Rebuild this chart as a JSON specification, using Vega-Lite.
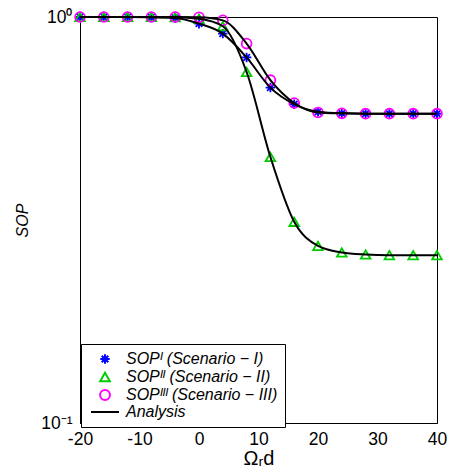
{
  "$schema": "https://vega.github.io/schema/vega-lite/v6.json",
  "width": 357,
  "height": 406,
  "autosize": "none",
  "padding": {"left": 80, "top": 17, "right": 13, "bottom": 51},
  "config": {
    "font": "Liberation Sans",
    "view": {"stroke": "black", "strokeWidth": 1},
    "axis": {
      "grid": false,
      "ticks": false,
      "domainColor": "black",
      "domainWidth": 1,
      "labelColor": "black",
      "titleColor": "black",
      "labelFont": "Liberation Sans",
      "titleFont": "Liberation Sans",
      "labelFontSize": 17.5,
      "titleFontWeight": "normal"
    }
  },
  "data": {
    "values": [
      {"x": -20, "sop": 1.0, "series": "SOPᴵ (Scenario − I)"},
      {"x": -16, "sop": 1.0, "series": "SOPᴵ (Scenario − I)"},
      {"x": -12, "sop": 1.0, "series": "SOPᴵ (Scenario − I)"},
      {"x": -8, "sop": 0.999, "series": "SOPᴵ (Scenario − I)"},
      {"x": -4, "sop": 0.995, "series": "SOPᴵ (Scenario − I)"},
      {"x": 0, "sop": 0.963, "series": "SOPᴵ (Scenario − I)"},
      {"x": 4, "sop": 0.91, "series": "SOPᴵ (Scenario − I)"},
      {"x": 8, "sop": 0.795, "series": "SOPᴵ (Scenario − I)"},
      {"x": 12, "sop": 0.67, "series": "SOPᴵ (Scenario − I)"},
      {"x": 16, "sop": 0.61, "series": "SOPᴵ (Scenario − I)"},
      {"x": 20, "sop": 0.584, "series": "SOPᴵ (Scenario − I)"},
      {"x": 24, "sop": 0.579, "series": "SOPᴵ (Scenario − I)"},
      {"x": 28, "sop": 0.578, "series": "SOPᴵ (Scenario − I)"},
      {"x": 32, "sop": 0.578, "series": "SOPᴵ (Scenario − I)"},
      {"x": 36, "sop": 0.578, "series": "SOPᴵ (Scenario − I)"},
      {"x": 40, "sop": 0.578, "series": "SOPᴵ (Scenario − I)"},
      {"x": -20, "sop": 1.0, "series": "SOPᴵᴵ (Scenario − II)"},
      {"x": -16, "sop": 1.0, "series": "SOPᴵᴵ (Scenario − II)"},
      {"x": -12, "sop": 1.0, "series": "SOPᴵᴵ (Scenario − II)"},
      {"x": -8, "sop": 1.0, "series": "SOPᴵᴵ (Scenario − II)"},
      {"x": -4, "sop": 0.999, "series": "SOPᴵᴵ (Scenario − II)"},
      {"x": 0, "sop": 0.99, "series": "SOPᴵᴵ (Scenario − II)"},
      {"x": 4, "sop": 0.949, "series": "SOPᴵᴵ (Scenario − II)"},
      {"x": 8, "sop": 0.732, "series": "SOPᴵᴵ (Scenario − II)"},
      {"x": 12, "sop": 0.452, "series": "SOPᴵᴵ (Scenario − II)"},
      {"x": 16, "sop": 0.313, "series": "SOPᴵᴵ (Scenario − II)"},
      {"x": 20, "sop": 0.273, "series": "SOPᴵᴵ (Scenario − II)"},
      {"x": 24, "sop": 0.263, "series": "SOPᴵᴵ (Scenario − II)"},
      {"x": 28, "sop": 0.26, "series": "SOPᴵᴵ (Scenario − II)"},
      {"x": 32, "sop": 0.259, "series": "SOPᴵᴵ (Scenario − II)"},
      {"x": 36, "sop": 0.259, "series": "SOPᴵᴵ (Scenario − II)"},
      {"x": 40, "sop": 0.259, "series": "SOPᴵᴵ (Scenario − II)"},
      {"x": -20, "sop": 1.0, "series": "SOPᴵᴵᴵ (Scenario − III)"},
      {"x": -16, "sop": 1.0, "series": "SOPᴵᴵᴵ (Scenario − III)"},
      {"x": -12, "sop": 1.0, "series": "SOPᴵᴵᴵ (Scenario − III)"},
      {"x": -8, "sop": 1.0, "series": "SOPᴵᴵᴵ (Scenario − III)"},
      {"x": -4, "sop": 1.0, "series": "SOPᴵᴵᴵ (Scenario − III)"},
      {"x": 0, "sop": 0.998, "series": "SOPᴵᴵᴵ (Scenario − III)"},
      {"x": 4, "sop": 0.981, "series": "SOPᴵᴵᴵ (Scenario − III)"},
      {"x": 8, "sop": 0.86, "series": "SOPᴵᴵᴵ (Scenario − III)"},
      {"x": 12, "sop": 0.699, "series": "SOPᴵᴵᴵ (Scenario − III)"},
      {"x": 16, "sop": 0.614, "series": "SOPᴵᴵᴵ (Scenario − III)"},
      {"x": 20, "sop": 0.582, "series": "SOPᴵᴵᴵ (Scenario − III)"},
      {"x": 24, "sop": 0.579, "series": "SOPᴵᴵᴵ (Scenario − III)"},
      {"x": 28, "sop": 0.578, "series": "SOPᴵᴵᴵ (Scenario − III)"},
      {"x": 32, "sop": 0.578, "series": "SOPᴵᴵᴵ (Scenario − III)"},
      {"x": 36, "sop": 0.578, "series": "SOPᴵᴵᴵ (Scenario − III)"},
      {"x": 40, "sop": 0.578, "series": "SOPᴵᴵᴵ (Scenario − III)"}
    ]
  },
  "layer": [
    {
      "mark": {"type": "point", "filled": false, "strokeWidth": 1.8, "opacity": 1},
      "encoding": {
        "x": {
          "field": "x", "type": "quantitative",
          "scale": {"domain": [-20, 40], "nice": false, "zero": false},
          "axis": {"values": [-20, -10, 0, 10, 20, 30, 40], "labelFlush": false, "labelExpr": "replace(datum.label, '−', '-')", "labelPadding": 7, "title": "Ωᵣd", "titleFontSize": 20, "titlePadding": 1}
        },
        "y": {
          "field": "sop", "type": "quantitative",
          "scale": {"type": "log", "domain": [0.1, 1], "nice": false},
          "axis": {"values": [0.1, 1], "labelFlush": false, "labelExpr": "datum.value >= 1 ? '10⁰' : '10⁻¹'", "labelPadding": 8, "title": "SOP", "titleFontStyle": "italic", "titleFontSize": 16, "titlePadding": 10}
        },
        "color": {
          "field": "series", "type": "nominal",
          "scale": {
            "domain": ["SOPᴵ (Scenario − I)", "SOPᴵᴵ (Scenario − II)", "SOPᴵᴵᴵ (Scenario − III)", "Analysis"],
            "range": ["#0000ff", "#00cc00", "#ff00ff", "#000000"]
          },
          "legend": {
            "orient": "none", "legendX": 1, "legendY": 327,
            "title": null,
            "strokeColor": "black", "fillColor": "white",
            "padding": 7,
            "labelFont": "Liberation Sans", "labelFontSize": 16,
            "labelFontStyle": "italic",
            "labelColor": "black",
            "labelLimit": 300,
            "labelOffset": 13,
            "symbolOffset": 9,
            "symbolStrokeWidth": 2,
            "rowPadding": 0
          }
        },
        "shape": {
          "field": "series", "type": "nominal",
          "scale": {
            "domain": ["SOPᴵ (Scenario − I)", "SOPᴵᴵ (Scenario − II)", "SOPᴵᴵᴵ (Scenario − III)", "Analysis"],
            "range": ["M-1,0L1,0M0,-1L0,1M-0.7,-0.7L0.7,0.7M-0.7,0.7L0.7,-0.7", "triangle-up", "circle", "M-2.8,0L2.8,0"]
          }
        },
        "size": {
          "field": "series", "type": "ordinal",
          "scale": {
            "domain": ["SOPᴵ (Scenario − I)", "SOPᴵᴵ (Scenario − II)", "SOPᴵᴵᴵ (Scenario − III)", "Analysis"],
            "range": [90, 100, 75, 100]
          }
        }
      }
    },
    {
      "mark": {"type": "line", "interpolate": "monotone", "color": "black", "strokeWidth": 2},
      "encoding": {
        "x": {"field": "x", "type": "quantitative"},
        "y": {"field": "sop", "type": "quantitative"},
        "detail": {"field": "series"}
      }
    }
  ]
}
